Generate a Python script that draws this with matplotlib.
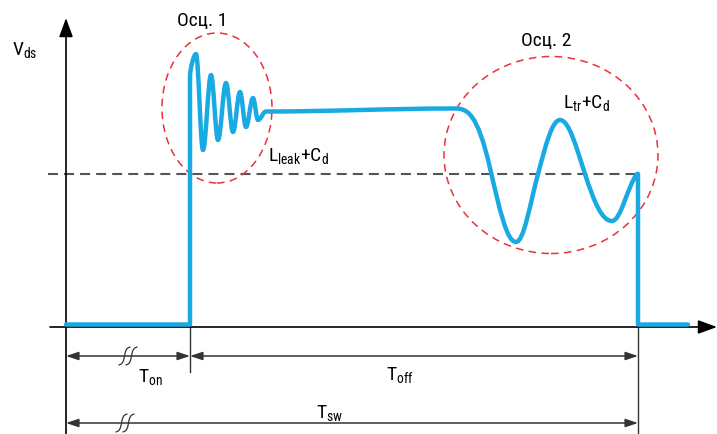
import matplotlib
matplotlib.use("Agg")
import matplotlib.pyplot as plt
import numpy as np
from matplotlib import font_manager
from matplotlib.path import Path
from matplotlib.patches import PathPatch, Ellipse

installed = set(f.name for f in font_manager.fontManager.ttflist)
font = next((f for f in ['Roboto Condensed', 'PT Sans Narrow', 'Archivo Narrow', 'Liberation Sans Narrow']
             if f in installed), 'DejaVu Sans')
plt.rcParams['font.family'] = [font, 'DejaVu Sans']
plt.rcParams['mathtext.fontset'] = 'custom'
plt.rcParams['mathtext.rm'] = font
plt.rcParams['mathtext.default'] = 'regular'

# waveform knots: time, voltage, tangent direction (deg)
wave_t = [66, 190, 190, 190, 196, 203, 211, 218, 226, 233, 240, 246, 253, 258, 266,
          455, 490, 516, 538, 560, 585, 612, 637, 638, 638, 638, 688]
wave_v = [2.5, 2.5, 2.5, 250, 273, 177, 252, 187, 244, 195, 235, 200, 229, 207, 215.5,
          218.5, 159, 85, 153, 207, 153, 106, 153, 153, 2.5, 2.5, 2.5]
wave_dir = [0, 0, 90, 90, 0, 0, 0, 0, 0, 0, 0, 0, 0, 0, 0,
            0, -77, 0, 75, 0, -72, 0, 50, -90, -90, 0, 0]

# reference levels and time marks
v_ref = 153
t_origin, t_on, t_end = 66, 190, 638

# oscillation regions: centre t, centre v, width, height
osc_regions = [(217, 219, 110, 150), (551, 172, 214, 197)]

BLUE = '#19a9e3'
RED = '#e8323c'


def hermite_path(t, v, ang, k=0.36):
    verts = [(t[0], v[0])]
    codes = [Path.MOVETO]
    for i in range(len(t) - 1):
        x0, y0, x1, y1 = t[i], v[i], t[i + 1], v[i + 1]
        dx, dy = x1 - x0, y1 - y0
        a0, a1 = np.radians(ang[i]), np.radians(ang[i + 1])
        if abs(np.cos(a0)) < 1e-3:
            c1 = (x0, y0 + k * dy)
        else:
            c1 = (x0 + k * dx, y0 + k * dx * np.tan(a0))
        if abs(np.cos(a1)) < 1e-3:
            c2 = (x1, y1 - k * dy)
        else:
            c2 = (x1 - k * dx, y1 - k * dx * np.tan(a1))
        verts += [c1, c2, (x1, y1)]
        codes += [Path.CURVE4] * 3
    return Path(verts, codes)


def break_mark(ax, x, y):
    for dx in (-3.5, 3.5):
        p = Path([(x + dx - 6, y - 9), (x + dx + 3, y - 8), (x + dx - 3, y + 8), (x + dx + 6, y + 9)],
                 [Path.MOVETO, Path.CURVE4, Path.CURVE4, Path.CURVE4])
        ax.add_patch(PathPatch(p, fill=False, lw=0.9, color='#333333', zorder=4))


fig = plt.figure(figsize=(7.17, 4.34), dpi=100)
ax = fig.add_axes([0, 0, 1, 1])
ax.set_xlim(0, 717)
ax.set_ylim(-107, 327)
ax.axis('off')

# axes with arrows
ax.annotate('', xy=(t_origin, 309), xytext=(t_origin, -107),
            arrowprops=dict(arrowstyle='-|>,head_length=1.15,head_width=0.42', mutation_scale=10,
                            lw=1.2, color='black', shrinkA=0, shrinkB=0))
ax.annotate('', xy=(717, 0), xytext=(50, 0),
            arrowprops=dict(arrowstyle='-|>,head_length=1.15,head_width=0.42', mutation_scale=10,
                            lw=1.2, color='black', shrinkA=0, shrinkB=0))

# extension lines
ax.plot([t_on, t_on], [0, -45], color='#333333', lw=1.0)
ax.plot([t_end, t_end], [0, -107], color='#333333', lw=1.0)

# reference level
ax.plot([48, t_end], [v_ref, v_ref], color='#555555', lw=1.5, dashes=(4.8, 2.9), zorder=1)

# waveform
ax.add_patch(PathPatch(hermite_path(wave_t, wave_v, wave_dir), fill=False, lw=3.2,
                       edgecolor=BLUE, capstyle='round', joinstyle='round', zorder=3))

# oscillation ellipses
for cx, cy, w, h in osc_regions:
    ax.add_patch(Ellipse((cx, cy), w, h, fill=False, edgecolor=RED, lw=1.1,
                         linestyle=(0, (5, 3.5)), zorder=2))

# dimension arrows
dim_style = dict(arrowstyle='<|-|>,head_length=0.75,head_width=0.25', mutation_scale=10,
                 lw=1.1, color='#333333', shrinkA=0, shrinkB=0)
ax.annotate('', xy=(t_origin, -29), xytext=(t_on, -29), arrowprops=dim_style)
ax.annotate('', xy=(t_on, -29), xytext=(t_end, -29), arrowprops=dim_style)
ax.annotate('', xy=(t_origin, -96), xytext=(t_end, -96), arrowprops=dim_style)
break_mark(ax, 128, -29)
break_mark(ax, 125, -96)

fs = 14
ax.text(12, 272, r'$V_{ds}$', fontsize=fs, ha='left', va='baseline')
ax.text(202, 301, 'Осц. 1', fontsize=fs, ha='center', va='baseline')
ax.text(546, 281, 'Осц. 2', fontsize=fs, ha='center', va='baseline')
ax.text(268, 166, r'$L_{leak}$+$C_{d}$', fontsize=fs, ha='left', va='baseline')
ax.text(563, 219, r'$L_{tr}$+$C_{d}$', fontsize=fs, ha='left', va='baseline')
ax.text(150, -55, r'$T_{on}$', fontsize=fs, ha='center', va='baseline')
ax.text(400, -53, r'$T_{off}$', fontsize=fs, ha='center', va='baseline')
ax.text(330, -91, r'$T_{sw}$', fontsize=fs, ha='center', va='baseline')

plt.savefig('out.png', dpi=100)
